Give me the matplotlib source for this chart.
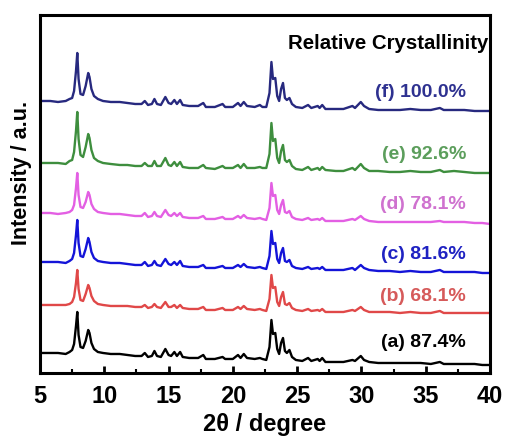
import numpy as np
import matplotlib
matplotlib.use('Agg')
import matplotlib.pyplot as plt
from matplotlib.ticker import MultipleLocator

plt.rcParams['font.family'] = ['Liberation Sans', 'DejaVu Sans']

# 2theta positions of the traced vertices (degree)
two_theta = [5.0, 5.8, 6.4, 7.0, 7.3, 7.5, 7.65, 7.8, 7.9, 8.0,
             8.15, 8.35, 8.55, 8.75, 8.85, 9.0, 9.2, 9.5, 9.9, 10.5,
             11.2, 11.8, 12.4, 12.9, 13.15, 13.4, 13.7, 13.9, 14.1, 14.4,
             14.75, 15.0, 15.2, 15.45, 15.65, 15.9, 16.1, 16.6, 17.3, 17.7,
             17.9, 18.6, 19.2, 19.4, 20.0, 20.4, 20.6, 20.85, 21.1, 21.7,
             22.1, 22.3, 22.6, 22.85, 23.0, 23.12, 23.3, 23.45, 23.6, 23.75,
             23.9, 24.05, 24.2, 24.4, 24.6, 24.9, 25.4, 25.85, 26.1, 26.6,
             26.75, 26.95, 27.2, 28.0, 28.6, 29.3, 29.5, 29.95, 30.2, 30.6,
             31.3, 32.2, 33.0, 33.8, 34.6, 35.4, 36.1, 36.4, 37.2, 38.0,
             38.8, 39.4, 40.0]

# intensities (a.u.)
int_f = [0, 0, -1, 0, 2, 3, 10, 30, 48, 22,
         7, 6, 15, 28, 24, 12, 5, 2, 0, -1,
         -1, -2, -3, -3, 0, -4, -3, 2, -3, -4,
         4, -2, -3, 1, -3, 1, -4, -5, -5, -2,
         -6, -6, -3, -6, -6, -2, -5, -1, -5, -6,
         -4, -6, -6, 8, 39, 22, 23, 5, 0, 12,
         18, 3, 1, 3, -3, -6, -7, -4, -7, -5,
         -7, -4, -8, -8, -8, -5, -7, -1, -5, -8,
         -9, -9, -9, -8, -9, -9, -7, -9, -9, -9,
         -10, -10, -10]
int_e = [0, 0, 0, -1, 2, 3, 11, 32, 51, 24,
         8, 6, 16, 29, 25, 13, 5, 2, 0, -1,
         -2, -2, -3, -3, 0, -3, -3, 2, -3, -3,
         5, -2, -3, 1, -3, 1, -4, -5, -5, -2,
         -5, -6, -3, -5, -5, -2, -5, -1, -5, -5,
         -4, -5, -5, 9, 40, 22, 24, 5, 0, 12,
         18, 3, 1, 3, -3, -6, -7, -4, -7, -5,
         -7, -4, -7, -8, -8, -5, -7, -1, -5, -8,
         -8, -9, -9, -8, -9, -9, -7, -9, -8, -9,
         -10, -10, -10]
int_d = [0, 0, -1, 0, 1, 3, 8, 25, 40, 18,
         6, 5, 11, 21, 18, 9, 4, 1, 0, -1,
         -1, -2, -3, -3, 0, -4, -3, 1, -3, -4,
         3, -2, -3, 0, -3, 0, -4, -5, -5, -3,
         -6, -6, -4, -6, -6, -3, -5, -2, -5, -6,
         -5, -6, -7, 5, 30, 17, 18, 3, -1, 8,
         13, 1, 0, 2, -4, -6, -7, -5, -7, -6,
         -7, -5, -8, -8, -8, -6, -7, -3, -6, -8,
         -9, -9, -9, -9, -9, -9, -8, -9, -9, -9,
         -10, -10, -11]
int_c = [0, 0, 0, -1, 1, 3, 9, 27, 42, 19,
         6, 5, 13, 24, 20, 10, 4, 1, 0, -1,
         -1, -2, -3, -3, 0, -4, -3, 1, -3, -4,
         3, -2, -3, 0, -3, 1, -4, -5, -5, -3,
         -6, -6, -4, -6, -6, -3, -5, -2, -5, -6,
         -5, -6, -7, 6, 31, 18, 19, 3, -1, 9,
         14, 1, 0, 2, -4, -6, -7, -5, -7, -6,
         -7, -5, -8, -8, -8, -6, -8, -3, -6, -8,
         -9, -9, -10, -9, -10, -10, -8, -10, -10, -10,
         -10, -11, -11]
int_b = [0, 0, 0, 0, 1, 3, 8, 22, 35, 16,
         5, 4, 11, 20, 17, 9, 4, 1, 0, -1,
         -1, -1, -2, -2, 0, -3, -2, 1, -2, -3,
         3, -2, -2, 0, -3, 0, -3, -4, -4, -2,
         -5, -5, -3, -5, -5, -2, -4, -1, -4, -5,
         -4, -5, -6, 6, 30, 17, 18, 3, -1, 8,
         13, 1, 0, 2, -3, -5, -6, -4, -6, -5,
         -6, -4, -7, -7, -7, -5, -6, -2, -5, -7,
         -7, -7, -8, -7, -8, -8, -6, -8, -8, -8,
         -8, -8, -8]
int_a = [0, 0, 0, -1, 1, 3, 9, 27, 41, 18,
         6, 5, 12, 23, 20, 10, 4, 1, 0, -1,
         -1, -2, -3, -3, 0, -4, -3, 2, -3, -4,
         4, -2, -3, 1, -3, 1, -4, -5, -5, -2,
         -6, -6, -4, -6, -6, -2, -5, -1, -5, -6,
         -5, -6, -7, 6, 33, 19, 20, 4, -1, 10,
         15, 2, 0, 3, -4, -7, -8, -5, -8, -6,
         -8, -5, -9, -9, -9, -7, -8, -3, -7, -9,
         -10, -10, -10, -10, -10, -11, -9, -11, -11, -11,
         -11, -12, -12]

labels = ['(a) 87.4%', '(b) 68.1%', '(c) 81.6%', '(d) 78.1%', '(e) 92.6%', '(f) 100.0%']
offsets = [20, 68, 111, 160, 210, 272]
label_y = [30, 76, 118, 168, 218, 280]
line_colors = ['black', '#E04848', '#1414D8', '#E35FE3', '#3E8E3E', '#27297F']
text_colors = ['black', '#D65A5A', '#1F22C2', '#CF72CF', '#5C9E5C', '#2E3190']

patterns = [int_a, int_b, int_c, int_d, int_e, int_f]

fig = plt.figure(figsize=(5.05, 4.37), dpi=100)
ax = fig.add_axes([0.0792, 0.1465, 0.8911, 0.8192])

for y, off, lc, tc, lab, ly in zip(patterns, offsets, line_colors, text_colors, labels, label_y):
    assert len(y) == len(two_theta)
    ax.plot(two_theta, np.array(y) + off, color=lc, lw=1.7, solid_joinstyle='round')
    ax.text(38.15, ly, lab, color=tc, fontsize=14, fontweight='bold',
            ha='right', va='center')

ax.text(39.85, 329, 'Relative Crystallinity', fontsize=14.7, fontweight='bold',
        ha='right', va='center')

ax.set_xlim(5, 40)
ax.set_ylim(0, 358)
ax.xaxis.set_major_locator(MultipleLocator(5))
ax.xaxis.set_minor_locator(MultipleLocator(2.5))
ax.tick_params(axis='x', which='major', direction='in', length=5, width=2,
               labelsize=17, pad=9)
ax.tick_params(axis='x', which='minor', direction='in', length=3, width=1.5)
for lbl in ax.get_xticklabels():
    lbl.set_fontweight('bold')
ax.set_yticks([])
for s in ax.spines.values():
    s.set_linewidth(2.2)

ax.set_xlabel('2θ / degree', fontsize=17, fontweight='bold', labelpad=3)
ax.set_ylabel('Intensity / a.u.', fontsize=15.5, fontweight='bold')
ax.yaxis.set_label_coords(-0.018, 0.559)

plt.savefig('out.png', dpi=100)
